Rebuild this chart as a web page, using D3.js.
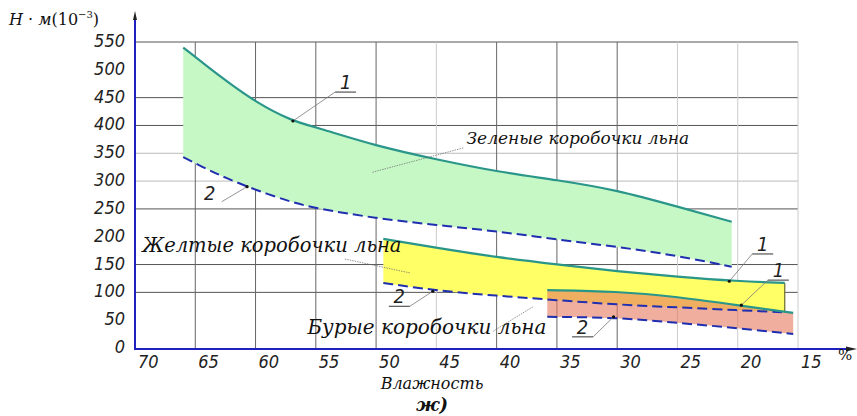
<!DOCTYPE html>
<html>
<head>
<meta charset="utf-8">
<script src="https://cdn.jsdelivr.net/npm/d3@7"></script>
</head>
<body style="margin:0;background:#fff">
<svg id="chart" width="857" height="416"></svg>
<script>
// humidity (x) and force values (y)
var xTicks = [70, 65, 60, 55, 50, 45, 40, 35, 30, 25, 20, 15]
var yTicks = [0, 50, 100, 150, 200, 250, 300, 350, 400, 450, 500, 550]
var gridDarkX = [65, 60, 55, 50, 40, 35, 30]
var gridLightX = [45, 25, 20, 15]
var gridDarkY = [550, 450, 400, 250, 150, 100]
var gridLightY = [350, 300]

var greenX     = [66, 64, 62.5, 60, 57, 55, 50, 45, 40, 35, 30, 25, 20.5]
var greenUpper = [540, 506, 481, 442, 408, 397, 363, 339, 317, 302, 284, 254, 227]
var greenLower = [343, 321, 306, 284, 262, 251, 233, 221, 210, 195, 182, 166, 146]

var yellowX     = [49.4, 45, 40, 35, 30, 25, 20, 16.1]
var yellowUpper = [196, 180, 163, 150, 138, 128, 120, 117]
var yellowLower = [117, 103, 94, 86, 78, 73, 68, 64]

var brownX     = [35.8, 30, 25, 20, 15.4]
var brownUpper = [104, 102, 92, 77, 63]
var brownLower = [56, 55, 45, 36, 25]

// curve callouts: dot on curve, bend point, label, underline direction
var callouts = [
  { dot: [56.9, 408], tip: [53.4, 460], text: "1", dir: 1 },
  { dot: [60.7, 290], tip: [62.8, 263], text: "2", dir: 0 },
  { dot: [45.3, 102], tip: [47.2, 75],  text: "2", dir: -1 },
  { dot: [30.3, 56],  tip: [32.0, 20],  text: "2", dir: -1 },
  { dot: [20.7, 120], tip: [18.8, 169], text: "1", dir: 1 },
  { dot: [19.7, 77],  tip: [17.5, 122], text: "1", dir: 1 }
]
var regionLabels = [
  { text: "Зеленые коробочки льна", at: [42.5, 367], from: [50.3, 316], to: [42.7, 360] },
  { text: "Желтые коробочки льна", at: [69.4, 172], from: [47.2, 135], to: [52.6, 160] },
  { text: "Бурые коробочки льна", at: [55.7, 25], from: [37.0, 74], to: [40.3, 30] }
]

var svg = d3.select("#chart")
var x = d3.scaleLinear().domain([70, 15]).range([135, 798])
var y = d3.scaleLinear().domain([0, 550]).range([348, 42])

var sansC = "DejaVu Sans Condensed"
var serifC = "DejaVu Serif"

// grid
var grid = svg.append("g")
grid.selectAll(".gy").data(gridDarkY.map(v => [v, "#555"]).concat(gridLightY.map(v => [v, "#bbb"])))
  .enter().append("line")
  .attr("x1", 135).attr("x2", 798)
  .attr("y1", d => y(d[0])).attr("y2", d => y(d[0]))
  .attr("stroke", d => d[1]).attr("stroke-width", 1)
grid.selectAll(".gx").data(gridDarkX.map(v => [v, "#666"]).concat(gridLightX.map(v => [v, "#ccc"])))
  .enter().append("line")
  .attr("x1", d => x(d[0])).attr("x2", d => x(d[0]))
  .attr("y1", y(550)).attr("y2", y(0))
  .attr("stroke", d => d[1]).attr("stroke-width", 1)

function series(xs, up, lo) {
  return xs.map((v, i) => ({ x: v, up: up[i], lo: lo[i] }))
}
var green = series(greenX, greenUpper, greenLower)
var yellow = series(yellowX, yellowUpper, yellowLower)
var brown = series(brownX, brownUpper, brownLower)

var curve = d3.curveBasis
var area = d3.area().x(d => x(d.x)).y0(d => y(d.lo)).y1(d => y(d.up)).curve(curve)
var lineUp = d3.line().x(d => x(d.x)).y(d => y(d.up)).curve(curve)
var lineLo = d3.line().x(d => x(d.x)).y(d => y(d.lo)).curve(curve)

var teal = "#2a968a", navy = "#1f2fb0"

svg.append("path").attr("d", area(green)).attr("fill", "#c6f8c6")
svg.append("path").attr("d", area(yellow)).attr("fill", "#ffff66")
svg.append("path").attr("d", area(brown)).attr("fill", "#e6785e").attr("fill-opacity", 0.6)

// yellow right edge
svg.append("line")
  .attr("x1", x(yellowX[yellowX.length - 1])).attr("x2", x(yellowX[yellowX.length - 1]))
  .attr("y1", y(yellowUpper[yellowUpper.length - 1])).attr("y2", y(yellowLower[yellowLower.length - 1]))
  .attr("stroke", "#6b6b2a").attr("stroke-width", 1.2)

;[green, yellow, brown].forEach(s => {
  svg.append("path").attr("d", lineUp(s)).attr("fill", "none")
    .attr("stroke", teal).attr("stroke-width", 2.2)
  svg.append("path").attr("d", lineLo(s)).attr("fill", "none")
    .attr("stroke", navy).attr("stroke-width", 2).attr("stroke-dasharray", "10,5")
})

// axes
svg.append("line").attr("x1", 135).attr("x2", 850).attr("y1", 349).attr("y2", 349)
  .attr("stroke", "#2020c0").attr("stroke-width", 2)
svg.append("path").attr("d", "M857,349 L846,346.5 L846,351.5 Z").attr("fill", "#222")
svg.append("line").attr("x1", 135).attr("x2", 135).attr("y1", 350).attr("y2", 18)
  .attr("stroke", "#2020c0").attr("stroke-width", 2)
svg.append("path").attr("d", "M135,11 L133,20 L137,20 Z").attr("fill", "#222")

// tick labels
var yl = svg.append("g").attr("font-family", sansC).attr("font-style", "italic").attr("font-size", 18)
yl.selectAll("text").data(yTicks).enter().append("text")
  .attr("fill", "#222")
  .attr("x", 125).attr("y", d => y(d) + 5)
  .attr("text-anchor", "end")
  .text(d => d)
var xl = svg.append("g").attr("font-family", sansC).attr("font-style", "italic").attr("font-size", 18)
xl.selectAll("text").data(xTicks).enter().append("text")
  .attr("fill", "#222")
  .attr("x", d => x(d) + 3).attr("y", 368)
  .text(d => d)

// callouts
callouts.forEach(c => {
  var dx = x(c.dot[0]), dy = y(c.dot[1]), tx = x(c.tip[0]), ty = y(c.tip[1])
  svg.append("line").attr("x1", dx).attr("y1", dy).attr("x2", tx).attr("y2", ty)
    .attr("stroke", "#777").attr("stroke-width", 0.8)
  svg.append("circle").attr("cx", dx).attr("cy", dy).attr("r", 1.6).attr("fill", "#111")
  var lx
  if (c.dir !== 0) {
    svg.append("line").attr("x1", tx).attr("x2", tx + 21 * c.dir).attr("y1", ty).attr("y2", ty)
      .attr("stroke", "#333").attr("stroke-width", 1)
    lx = tx + 10.5 * c.dir
  } else {
    lx = tx - 12
  }
  svg.append("text")
    .attr("font-family", sansC).attr("font-style", "italic").attr("font-size", 20)
    .attr("fill", "#222")
    .attr("x", lx).attr("y", c.dir !== 0 ? ty - 3 : ty - 2)
    .attr("text-anchor", "middle")
    .text(c.text)
})

// region labels with leaders
var labelSize = [17, 19.5, 20]
regionLabels.forEach((r, i) => {
  svg.append("line")
    .attr("x1", x(r.from[0])).attr("y1", y(r.from[1]))
    .attr("x2", x(r.to[0])).attr("y2", y(r.to[1]))
    .attr("stroke", "#666").attr("stroke-width", 0.7).attr("stroke-dasharray", "1.5,1")
  svg.append("text")
    .attr("font-family", serifC).attr("font-style", "italic").attr("font-size", labelSize[i])
    .attr("fill", "#111")
    .attr("x", x(r.at[0])).attr("y", y(r.at[1]))
    .text(r.text)
})

// titles
var yt = svg.append("text").attr("font-family", serifC).attr("font-size", 16).attr("fill", "#111")
  .attr("x", 9).attr("y", 25)
yt.append("tspan").attr("font-style", "italic").text("H")
yt.append("tspan").text(" · ")
yt.append("tspan").attr("font-style", "italic").text("м")
yt.append("tspan").text("(10")
yt.append("tspan").attr("dy", -7).attr("font-size", 10).text("−3")
yt.append("tspan").attr("dy", 7).text(")")

svg.append("text").attr("font-family", serifC).attr("font-size", 15).attr("fill", "#111")
  .attr("x", 838).attr("y", 360).text("%")
svg.append("text").attr("font-family", serifC).attr("font-style", "italic").attr("font-size", 16)
  .attr("fill", "#111")
  .attr("x", 432).attr("y", 389).attr("text-anchor", "middle").text("Влажность")
svg.append("text").attr("font-family", serifC).attr("font-style", "italic").attr("font-weight", "bold")
  .attr("font-size", 18).attr("fill", "#111")
  .attr("x", 432).attr("y", 411).attr("text-anchor", "middle").text("ж)")
</script>
</body>
</html>
